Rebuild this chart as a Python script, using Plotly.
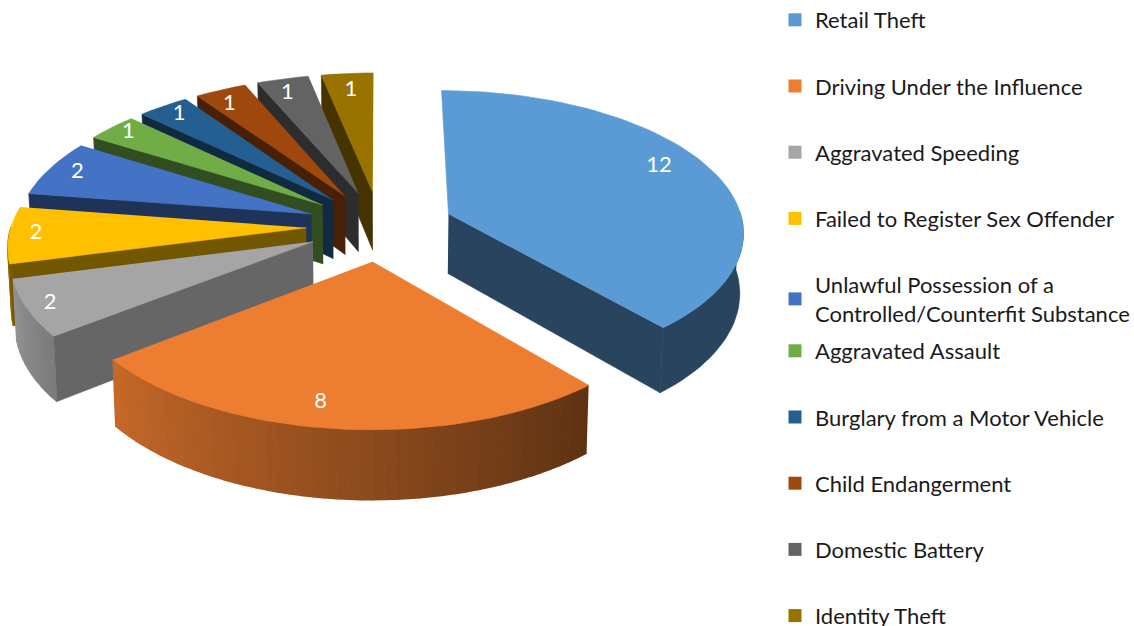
import math
import plotly.graph_objects as go

categories = ["Retail Theft", "Driving Under the Influence", "Aggravated Speeding",
              "Failed to Register Sex Offender",
              "Unlawful Possession of a<br>Controlled/Counterfit Substance",
              "Aggravated Assault", "Burglary from a Motor Vehicle", "Child Endangerment",
              "Domestic Battery", "Identity Theft"]
values = [12, 8, 2, 2, 2, 1, 1, 1, 1, 1]
colors = ["#5b9bd5", "#ed7d31", "#a5a5a5", "#ffc000", "#4472c4",
          "#70ad47", "#255e91", "#9e480e", "#636363", "#997300"]

# projection of the tilted pie onto the (pixel-scaled) axes
CX, CY, BX, AY, K, PULL, DEPTH = 380, 226, 295, 140, 0.114, 0.25, 60
FONT = "Lato"


def proj(u, v, z=0.0):
    s = 1 / (1 - K * v)
    return CX + BX * u * s * (1 - 0.01 * z), CY + AY * v * s + DEPTH * z * s


def mix(hex_color, f):
    r, g, b = (int(hex_color[i:i + 2], 16) for i in (1, 3, 5))
    return f"rgb({r * f:.0f},{g * f:.0f},{b * f:.0f})"


def poly(fig, pts, color, lw=0.6):
    fig.add_trace(go.Scatter(x=[p[0] for p in pts], y=[p[1] for p in pts], mode="lines",
                             fill="toself", fillcolor=color, line=dict(color=color, width=lw),
                             hoverinfo="skip", showlegend=False))


total = sum(values)
slices = []
a = 0.0
for i, val in enumerate(values):
    span = 360 * val / total
    slices.append((i, a, a + span))
    a += span


def plane(ang, r, mid):
    ox, oy = math.sin(math.radians(mid)) * PULL, -math.cos(math.radians(mid)) * PULL
    return ox + r * math.sin(math.radians(ang)), oy - r * math.cos(math.radians(ang))


fig = go.Figure()
order = [9, 8, 7, 6, 5, 4, 3, 2, 0, 1]
for i in order:
    _, a0, a1 = slices[i]
    mid = (a0 + a1) / 2
    col = colors[i]
    n = max(4, int((a1 - a0) / 2))
    angs = [a0 + (a1 - a0) * t / n for t in range(n + 1)]
    apex = plane(0, 0, mid)

    # outer curved wall, shaded along the arc
    vis = [t for t in angs if 88 <= t <= 272]
    if len(vis) >= 2:
        if i == 0:
            top_edge = [proj(*plane(t, 1, mid)) for t in vis]
            bot_edge = [proj(*plane(t, 1, mid), 1) for t in reversed(vis)]
            poly(fig, top_edge + bot_edge, mix(col, 0.44))
        else:
            for j in range(len(vis) - 1):
                p0, p1 = plane(vis[j], 1, mid), plane(vis[j + 1], 1, mid)
                # orange wall runs from bright (left) to dark (right)
                if i == 1:
                    f = 0.40 + 0.44 * (vis[j] - a0) / (a1 - a0)
                elif i == 2:
                    f = 0.90 - 0.15 * (a1 - vis[j]) / (a1 - a0)
                else:
                    f = 0.55
                poly(fig, [proj(*p0), proj(*p1), proj(*p1, 1), proj(*p0, 1)], mix(col, f), lw=1.4)

    # radial wall on the side that faces the viewer
    if i == 0:
        e = plane(a1, 1, mid)
        poly(fig, [proj(*apex), proj(*e), proj(*e, 1), proj(*apex, 1)], mix(col, 0.44))
    elif i >= 2:
        e = plane(a0, 1, mid)
        poly(fig, [proj(*apex), proj(*e), proj(*e, 1), proj(*apex, 1)], mix(col, 0.45 if i != 2 else 0.62))

    # top face
    top = [proj(*apex)] + [proj(*plane(t, 1, mid)) for t in angs]
    poly(fig, top, col)

# data labels: bisector anchor plus a small placement nudge in pixels
label_shift = {0: (-3, 0.86), 1: (4, 0.79), 2: (-3, 0.80), 3: (0, 0.86), 4: (-5, 0.84),
               5: (-4, 0.82), 6: (-3, 0.84), 7: (-4, 0.84), 8: (-5, 0.82), 9: (-5, 0.84)}
label_nudge = {0: (-9, -2), 1: (-6, 14), 2: (-41, 3), 3: (-15, 0), 4: (-5, -12),
               5: (-9, -14), 6: (0, -9), 7: (4, -5), 8: (10, -7), 9: (19, -2)}
for i, a0, a1 in slices:
    mid = (a0 + a1) / 2
    d, r = label_shift[i]
    x, y = proj(*plane(mid + d, r, mid))
    fig.add_trace(go.Scatter(x=[x + label_nudge[i][0]], y=[y + label_nudge[i][1]], mode="text",
                             text=[str(values[i])],
                             textfont=dict(family=FONT, size=22, color="white"),
                             hoverinfo="skip", showlegend=False))

# legend entries
for i, name in enumerate(categories):
    fig.add_trace(go.Scatter(x=[None], y=[None], mode="markers", name=name,
                             legend="legend" if i < 5 else "legend2",
                             legendgroup=str(i),
                             marker=dict(symbol="square", size=13, color=colors[i])))

leg = dict(font=dict(family=FONT, size=22, color="#1a1a1a"), bgcolor="rgba(0,0,0,0)",
           traceorder="grouped", tracegroupgap=34.6, itemclick=False, itemdoubleclick=False,
           xanchor="left", yanchor="top", x=775 / 1134, maxheight=600)
fig.update_layout(
    width=1134, height=626, margin=dict(l=0, r=0, t=0, b=0, autoexpand=False),
    paper_bgcolor="white", plot_bgcolor="white",
    xaxis=dict(visible=False, range=[0, 1134], fixedrange=True),
    yaxis=dict(visible=False, range=[626, 0], fixedrange=True),
    legend=dict(leg, y=1 + 1 / 626),
    legend2=dict(leg, y=1 - 330 / 626),
    showlegend=True,
)
fig.write_html("out.html", post_script="document.body.style.margin='0';",
               config=dict(displayModeBar=False))
